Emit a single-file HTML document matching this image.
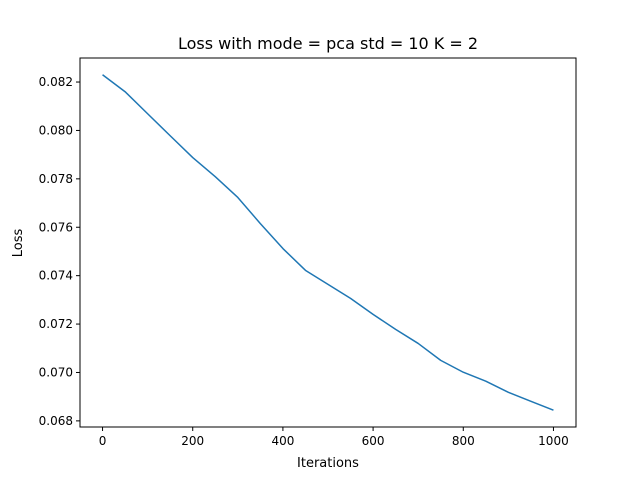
<!DOCTYPE html>
<html><head><meta charset="utf-8"><style>
body{margin:0;background:#fff;}
svg{display:block;font-family:"DejaVu Sans","Liberation Sans",sans-serif;}
</style></head><body>
<svg id="chart" width="640" height="480">
<rect width="640" height="480" fill="#fff"/>
<text x="328" y="49" font-size="16" text-anchor="middle">Loss with mode = pca std = 10 K = 2</text>
<g id="ticks"></g>
<polyline id="line" fill="none" stroke="#1f77b4" stroke-width="1.5" stroke-linejoin="round"/>
<rect x="80" y="58" width="496" height="369" fill="none" stroke="#000" stroke-width="1"/>
<text x="328" y="467" font-size="13" text-anchor="middle">Iterations</text>
<text transform="translate(22,243) rotate(-90)" font-size="13" text-anchor="middle">Loss</text>
</svg>
<script>
const iterations=[0,50,100,150,200,250,300,350,400,450,500,550,600,650,700,750,800,850,900,950,1000];
const loss=[0.0823,0.0816,0.08069,0.07978,0.07888,0.07809,0.07723,0.07615,0.07512,0.07422,0.07364,0.07306,0.0724,0.07178,0.0712,0.0705,0.07001,0.06964,0.06918,0.06881,0.06844];
const xTicks=[0,200,400,600,800,1000];
const yTicks=[0.068,0.070,0.072,0.074,0.076,0.078,0.080,0.082];
const x0=80,x1=576,y0=58,y1=427;
const xmin=-50,xmax=1050;
const lo=Math.min(...loss),hi=Math.max(...loss),m=(hi-lo)*0.05;
const ymin=lo-m,ymax=hi+m;
const sx=v=>x0+(v-xmin)/(xmax-xmin)*(x1-x0);
const sy=v=>y1-(v-ymin)/(ymax-ymin)*(y1-y0);
const ns="http://www.w3.org/2000/svg";
const g=document.getElementById('ticks');
function mk(t,a){const e=document.createElementNS(ns,t);for(const k in a)e.setAttribute(k,a[k]);return e;}
xTicks.forEach(v=>{
const l=mk('line',{x1:sx(v),x2:sx(v),y1:y1,y2:y1+4,stroke:'#000'});


g.appendChild(l);
const t=mk('text',{x:sx(v),y:y1+18,'font-size':12,'text-anchor':'middle'});
t.textContent=v;


g.appendChild(t);
});
yTicks.forEach(v=>{
const l=mk('line',{x1:x0-4,x2:x0,y1:sy(v),y2:sy(v),stroke:'#000'});


g.appendChild(l);
const t=mk('text',{x:x0-7,y:sy(v)+4,'font-size':12,'text-anchor':'end'});
t.textContent=v.toFixed(3);


g.appendChild(t);
});
document.getElementById('line').setAttribute('points',iterations.map((v,i)=>sx(v)+','+sy(loss[i])).join(' '));
</script>
</body></html>
